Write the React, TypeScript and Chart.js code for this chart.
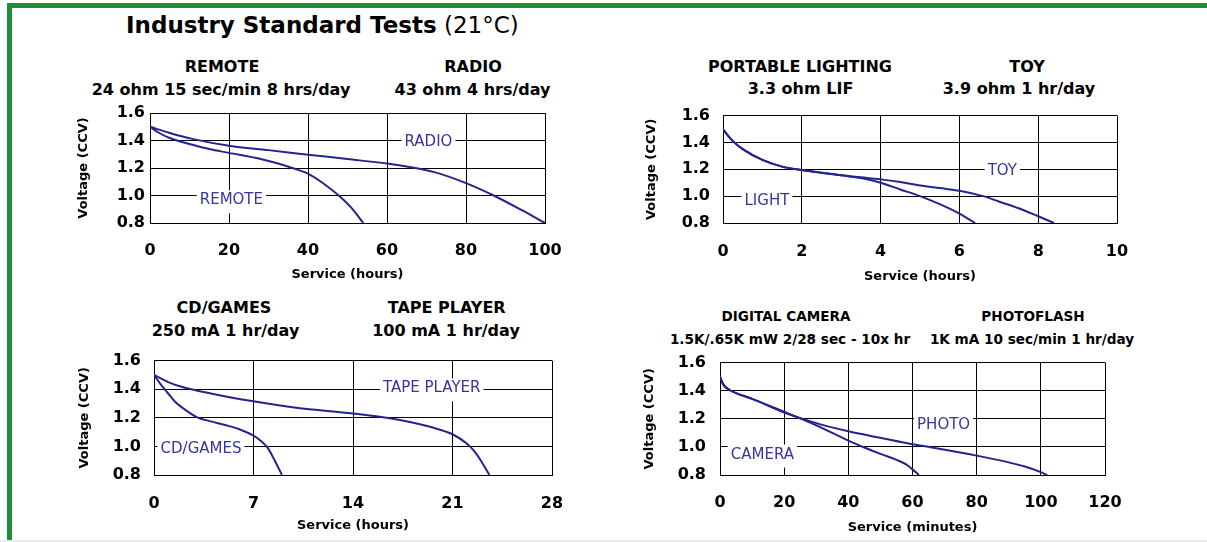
import React, { useEffect, useRef } from "react";
import { Chart, registerables } from "chart.js";

Chart.register(...registerables);

const FONT = "'DejaVu Sans', Verdana, sans-serif";
const LINE_COLOR = "#24248e";
const LABEL_COLOR = "#3535a2";
const GREEN = "#218c3c";

// ---------- Data ----------
// Panel 1: REMOTE / RADIO, service in hours
const remoteHours = [0, 2, 5, 10, 15, 20, 28, 32, 36, 40, 44, 48, 51, 54];
const remoteVolts = [1.5, 1.46, 1.418, 1.375, 1.338, 1.31, 1.265, 1.236, 1.2, 1.159, 1.085, 0.994, 0.91, 0.8];
const radioHours = [0, 5, 11, 20, 30, 40, 50, 60, 66, 72, 80, 87, 94, 100];
const radioVolts = [1.5, 1.455, 1.41, 1.362, 1.33, 1.297, 1.265, 1.232, 1.205, 1.17, 1.09, 1.0, 0.895, 0.8];

// Panel 2: LIGHT / TOY, service in hours
const lightHours = [0, 0.1, 0.25, 0.5, 1, 1.5, 2, 3, 3.5, 4, 4.5, 5, 5.5, 6, 6.4];
const lightVolts = [1.5, 1.46, 1.41, 1.35, 1.27, 1.22, 1.195, 1.155, 1.135, 1.1, 1.05, 1.0, 0.94, 0.87, 0.8];
const toyHours = [0, 0.1, 0.25, 0.5, 1, 1.5, 2, 3, 3.5, 4, 4.5, 5, 5.5, 6, 6.6, 7, 7.5, 8, 8.4];
const toyVolts = [1.5, 1.46, 1.41, 1.35, 1.27, 1.22, 1.195, 1.155, 1.14, 1.125, 1.105, 1.08, 1.06, 1.04, 1.0, 0.96, 0.91, 0.85, 0.8];

// Panel 3: CD/GAMES / TAPE PLAYER, service in hours
const cdHours = [0, 0.5, 1, 1.5, 2, 3, 4, 5, 6, 7, 7.5, 8, 8.5, 9];
const cdVolts = [1.5, 1.43, 1.37, 1.31, 1.27, 1.205, 1.175, 1.15, 1.12, 1.075, 1.04, 0.99, 0.9, 0.8];
const tapeHours = [0, 1, 2, 4, 7, 10, 14, 16, 18, 20, 21, 22, 22.5, 23, 23.6];
const tapeVolts = [1.5, 1.45, 1.415, 1.37, 1.315, 1.27, 1.23, 1.205, 1.17, 1.12, 1.085, 1.02, 0.97, 0.9, 0.8];

// Panel 4: CAMERA / PHOTO, service in minutes
const cameraMinutes = [0, 1, 3, 5, 10, 20, 25, 30, 40, 45, 50, 55, 58, 60, 62];
const cameraVolts = [1.5, 1.445, 1.405, 1.383, 1.342, 1.25, 1.203, 1.153, 1.045, 0.996, 0.95, 0.908, 0.875, 0.84, 0.8];
const photoMinutes = [0, 1, 3, 5, 10, 20, 30, 40, 50, 60, 66, 80, 90, 95, 100, 102];
const photoVolts = [1.5, 1.445, 1.405, 1.383, 1.342, 1.245, 1.169, 1.111, 1.065, 1.019, 0.996, 0.938, 0.89, 0.86, 0.82, 0.8];

// Axis ranges / tick steps
const voltMin = 0.8;
const voltMax = 1.6;
const voltStep = 0.2;
const xMaxes = [100, 10, 28, 120];
const xSteps = [20, 2, 7, 20];
const xTitles = ["Service (hours)", "Service (hours)", "Service (hours)", "Service (minutes)"];
const yTitle = "Voltage (CCV)";

// In-plot curve labels [text, x value, voltage]
const labelTexts = [["RADIO", "REMOTE"], ["TOY", "LIGHT"], ["TAPE PLAYER", "CD/GAMES"], ["PHOTO", "CAMERA"]];
const labelXs = [[70.5, 20.6], [7.09, 1.115], [19.54, 3.31], [69.7, 13.2]];
const labelYs = [[1.387, 0.965], [1.188, 0.964], [1.406, 0.978], [1.153, 0.945]];

// Headings
const titleBold = "Industry Standard Tests";
const titleNormal = " (21\u00B0C)";
const headingTexts = [
  ["REMOTE", "24 ohm 15 sec/min 8 hrs/day", "RADIO", "43 ohm 4 hrs/day"],
  ["PORTABLE LIGHTING", "3.3 ohm LIF", "TOY", "3.9 ohm 1 hr/day"],
  ["CD/GAMES", "250 mA 1 hr/day", "TAPE PLAYER", "100 mA 1 hr/day"],
  ["DIGITAL CAMERA", "1.5K/.65K mW 2/28 sec - 10x hr", "PHOTOFLASH", "1K mA 10 sec/min 1 hr/day"],
];

// ---------- Layout (positions only) ----------
const plots = [
  { left: 150, top: 113, right: 545, bottom: 223, yTickPad: 5, xTickPad: 18, xTitlePad: 11, yTitlePad: 26 },
  { left: 723, top: 113, right: 1117, bottom: 223, yTickPad: 13, xTickPad: 19, xTitlePad: 9, yTitlePad: 21 },
  { left: 154, top: 358, right: 552, bottom: 475, yTickPad: 13, xTickPad: 19, xTitlePad: 12, yTitlePad: 23 },
  { left: 720, top: 359, right: 1105, bottom: 475, yTickPad: 14, xTickPad: 18, xTitlePad: 10, yTitlePad: 22 },
];
// [cx, baseline] for each heading line
const headingPos = [
  [[222, 73], [221, 96], [473, 73], [472.5, 96]],
  [[800, 72.5], [800.5, 95], [1027, 72.5], [1019, 95]],
  [[224, 314], [225.5, 336.5], [446.7, 314], [446, 336.5]],
  [[786, 321.7], [790, 345], [1033, 321.7], [1032, 345]],
];
const headingSizes = [16, 16, 16, 13.6];

const LEFT_M = 100;
const TOP_M = 20;
const RIGHT_M = 40;
const BOTTOM_M = 70;

const inlineLabelPlugin = {
  id: "inlineLabels",
  afterDatasetsDraw(chart: any, _args: any, opts: any) {
    const items = (opts && opts.items) || [];
    const { ctx } = chart;
    const xs = chart.scales.x;
    const ys = chart.scales.y;
    ctx.save();
    ctx.font = `15px ${FONT}`;
    ctx.textAlign = "center";
    ctx.textBaseline = "middle";
    for (const it of items) {
      const px = xs.getPixelForValue(it.x);
      const py = ys.getPixelForValue(it.y);
      const w = ctx.measureText(it.text).width;
      ctx.fillStyle = "#ffffff";
      ctx.fillRect(px - w / 2 - 3, py - 10, w + 6, 23);
      ctx.fillStyle = LABEL_COLOR;
      ctx.fillText(it.text, px, py);
    }
    ctx.restore();
  },
};

function toPoints(xs: number[], ys: number[]) {
  return xs.map((x, i) => ({ x, y: ys[i] }));
}

const seriesByPanel = [
  [toPoints(remoteHours, remoteVolts), toPoints(radioHours, radioVolts)],
  [toPoints(lightHours, lightVolts), toPoints(toyHours, toyVolts)],
  [toPoints(cdHours, cdVolts), toPoints(tapeHours, tapeVolts)],
  [toPoints(cameraMinutes, cameraVolts), toPoints(photoMinutes, photoVolts)],
];
const seriesNames = [["REMOTE", "RADIO"], ["LIGHT", "TOY"], ["CD/GAMES", "TAPE PLAYER"], ["CAMERA", "PHOTO"]];

function Panel({ idx }: { idx: number }) {
  const ref = useRef<HTMLCanvasElement | null>(null);
  const p = plots[idx];
  const w = p.right - p.left + LEFT_M + RIGHT_M;
  const h = p.bottom - p.top + TOP_M + BOTTOM_M;

  useEffect(() => {
    if (!ref.current) return;
    const tickFont = { family: FONT, size: 16, weight: "bold" as const };
    const titleFont = { family: FONT, size: 13, weight: "bold" as const };
    const chart = new Chart(ref.current, {
      type: "line",
      data: {
        datasets: seriesByPanel[idx].map((pts, i) => ({
          label: seriesNames[idx][i],
          data: pts,
          borderColor: LINE_COLOR,
          backgroundColor: LINE_COLOR,
          borderWidth: 2,
          pointRadius: 0,
          fill: false,
          cubicInterpolationMode: "monotone" as const,
        })),
      },
      options: {
        animation: false,
        responsive: false,
        maintainAspectRatio: false,
        layout: { padding: { left: 0, top: TOP_M, right: RIGHT_M, bottom: 0 } },
        plugins: {
          legend: { display: false },
          tooltip: { enabled: false },
          inlineLabels: {
            items: labelTexts[idx].map((t, i) => ({ text: t, x: labelXs[idx][i], y: labelYs[idx][i] })),
          },
        } as any,
        scales: {
          x: {
            type: "linear",
            min: 0,
            max: xMaxes[idx],
            ticks: {
              stepSize: xSteps[idx],
              padding: p.xTickPad,
              color: "#000",
              font: tickFont,
              maxRotation: 0,
              autoSkip: false,
            },
            grid: { color: "#000", lineWidth: 1, drawTicks: false },
            border: { color: "#000", width: 1 },
            title: {
              display: true,
              text: xTitles[idx],
              color: "#000",
              font: titleFont,
              padding: { top: 0, bottom: p.xTitlePad },
            },
            afterFit: (s: any) => {
              s.height = BOTTOM_M;
            },
          },
          y: {
            type: "linear",
            min: voltMin,
            max: voltMax,
            ticks: {
              stepSize: voltStep,
              padding: p.yTickPad,
              color: "#000",
              font: tickFont,
              callback: (v: any) => Number(v).toFixed(1),
            },
            grid: { color: "#000", lineWidth: 1, drawTicks: false },
            border: { color: "#000", width: 1 },
            title: {
              display: true,
              text: yTitle,
              color: "#000",
              font: titleFont,
              padding: { top: p.yTitlePad, bottom: 0 },
            },
            afterFit: (s: any) => {
              s.width = LEFT_M;
            },
          },
        },
      },
      plugins: [inlineLabelPlugin],
    } as any);
    return () => chart.destroy();
  }, [idx]);

  return (
    <canvas
      ref={ref}
      width={w}
      height={h}
      style={{ position: "absolute", left: p.left - LEFT_M, top: p.top - TOP_M, width: w, height: h }}
    />
  );
}

function Heading({ text, cx, base, size }: { text: string; cx: number; base: number; size: number }) {
  return (
    <div
      style={{
        position: "absolute",
        left: cx,
        top: base - 0.846 * size,
        transform: "translateX(-50%)",
        whiteSpace: "nowrap",
        fontFamily: FONT,
        fontWeight: "bold",
        fontSize: size,
        lineHeight: 1,
        color: "#000",
      }}
    >
      {text}
    </div>
  );
}

export default function App() {
  const titleSize = 23;
  return (
    <div
      style={{
        position: "absolute",
        left: 0,
        top: 0,
        width: 1207,
        height: 542,
        background: "#fff",
        overflow: "hidden",
      }}
    >
      <div style={{ position: "absolute", left: 7, top: 3, width: 1200, height: 5, background: GREEN }} />
      <div style={{ position: "absolute", left: 7, top: 3, width: 5, height: 537, background: GREEN }} />
      <div style={{ position: "absolute", left: 0, top: 540, width: 1207, height: 2, background: "#e4eeee" }} />
      <div
        style={{
          position: "absolute",
          left: 126,
          top: 33.3 - 0.846 * titleSize,
          whiteSpace: "nowrap",
          fontFamily: FONT,
          fontSize: titleSize,
          lineHeight: 1,
          color: "#000",
        }}
      >
        <span style={{ fontWeight: "bold" }}>{titleBold}</span>
        <span>{titleNormal}</span>
      </div>
      {headingTexts.map((texts, pi) =>
        texts.map((t, li) => (
          <Heading
            key={`${pi}-${li}`}
            text={t}
            cx={headingPos[pi][li][0]}
            base={headingPos[pi][li][1]}
            size={headingSizes[pi]}
          />
        ))
      )}
      {plots.map((_, i) => (
        <Panel key={i} idx={i} />
      ))}
    </div>
  );
}
